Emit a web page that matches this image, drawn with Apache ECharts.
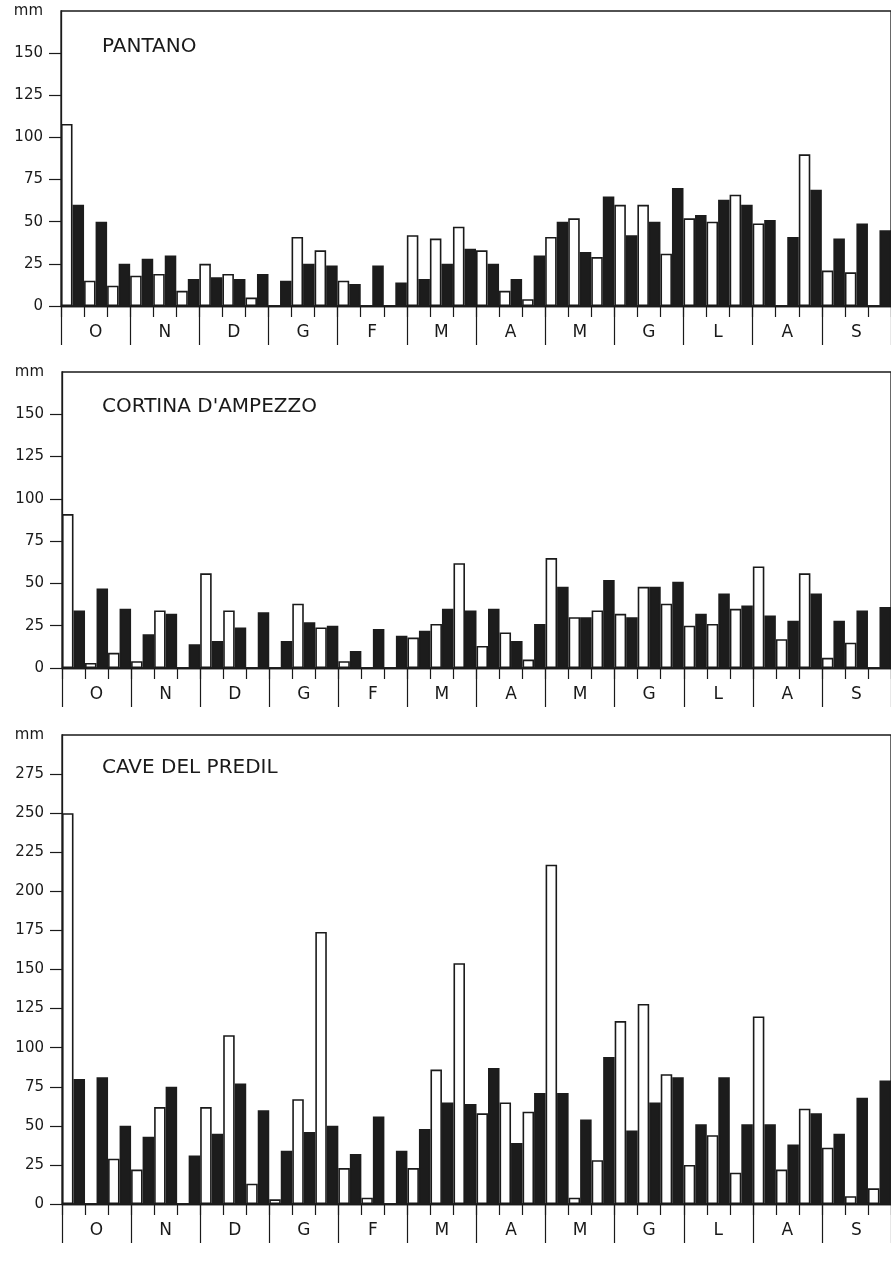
<!DOCTYPE html>
<html>
<head>
<meta charset="utf-8">
<title>Precipitazioni per decadi</title>
<script src="https://cdn.jsdelivr.net/npm/echarts@6/dist/echarts.min.js"></script>
<style>
  html, body { margin: 0; padding: 0; background: #ffffff; }
  #chart { width: 891px; height: 1282px; }
</style>
</head>
<body>
<div id="chart"></div>
<script>
// Month initials (ottobre ... settembre); each month is split into three decades
const mesi = ['O', 'N', 'D', 'G', 'F', 'M', 'A', 'M', 'G', 'L', 'A', 'S'];
const decadi = [];
mesi.forEach((m, i) => { for (let d = 1; d <= 3; d++) decadi.push(m + (i + 1) + '-' + d); });

// Station names
const stazioni = ['PANTANO', "CORTINA D'AMPEZZO", 'CAVE DEL PREDIL'];

// Precipitation per decade (mm): open bars and filled bars
const pantanoBianco = [108, 15, 12, 18, 19, 9, 25, 19, 5, 0, 41, 33, 15, 0, 0, 42, 40, 47,
                       33, 9, 4, 41, 52, 29, 60, 60, 31, 52, 50, 66, 49, 0, 90, 21, 20, 0];
const pantanoNero   = [60, 50, 25, 28, 30, 16, 17, 16, 19, 15, 25, 24, 13, 24, 14, 16, 25, 34,
                       25, 16, 30, 50, 32, 65, 42, 50, 70, 54, 63, 60, 51, 41, 69, 40, 49, 45];

const cortinaBianco = [91, 3, 9, 4, 34, 0, 56, 34, 0, 0, 38, 24, 4, 0, 0, 18, 26, 62,
                       13, 21, 5, 65, 30, 34, 32, 48, 38, 25, 26, 35, 60, 17, 56, 6, 15, 0];
const cortinaNero   = [34, 47, 35, 20, 32, 14, 16, 24, 33, 16, 27, 25, 10, 23, 19, 22, 35, 34,
                       35, 16, 26, 48, 30, 52, 30, 48, 51, 32, 44, 37, 31, 28, 44, 28, 34, 36];

const predilBianco  = [250, 0, 29, 22, 62, 0, 62, 108, 13, 3, 67, 174, 23, 4, 0, 23, 86, 154,
                       58, 65, 59, 217, 4, 28, 117, 128, 83, 25, 44, 20, 120, 22, 61, 36, 5, 10];
const predilNero    = [80, 81, 50, 43, 75, 31, 45, 77, 60, 34, 46, 50, 32, 56, 34, 48, 65, 64,
                       87, 39, 71, 71, 54, 94, 47, 65, 81, 51, 81, 51, 51, 38, 58, 45, 68, 79];

// Y-axis scale per panel (top value carries the unit label)
const scalaMax = [175, 175, 300];
const passo = 25;

const ink = '#1a1a1a';
const fontFam = 'DejaVu Sans, Liberation Sans, sans-serif';

// Panel geometry
const pannelli = [
  { left: 61, top: 11,  height: 295, bianco: pantanoBianco, nero: pantanoNero, titleTop: 37 },
  { left: 62, top: 372, height: 296, bianco: cortinaBianco, nero: cortinaNero, titleTop: 397 },
  { left: 62, top: 735, height: 469, bianco: predilBianco,  nero: predilNero,  titleTop: 758 }
];

const grid = [], xAxis = [], yAxis = [], series = [], title = [];

pannelli.forEach((p, k) => {
  const max = scalaMax[k];
  const tickVals = [];
  for (let v = 0; v < max; v += passo) tickVals.push(v);

  grid.push({
    left: p.left, top: p.top, width: 837, height: p.height,
    show: true, borderColor: ink, borderWidth: 1.3, backgroundColor: 'transparent',
    containLabel: false
  });

  // decade axis: short ticks at every decade boundary, carries the bars
  xAxis.push({
    type: 'category', gridIndex: k, data: decadi, position: 'bottom',
    boundaryGap: true,
    axisLine: { show: true, lineStyle: { color: ink, width: 1.3 } },
    axisTick: { show: true, interval: 0, length: 11, lineStyle: { color: ink, width: 1.2 } },
    axisLabel: { show: false },
    splitLine: { show: false }
  });
  // month axis: long ticks between months, month initials centred
  xAxis.push({
    type: 'category', gridIndex: k, data: mesi, position: 'bottom',
    boundaryGap: true,
    axisLine: { show: true, lineStyle: { color: ink, width: 1.3 } },
    axisTick: { show: true, interval: 0, length: 39, lineStyle: { color: ink, width: 1.2 } },
    axisLabel: {
      show: true, interval: 0, margin: 18, color: ink,
      fontFamily: fontFam, fontSize: 17
    },
    splitLine: { show: false }
  });

  yAxis.push({
    type: 'value', gridIndex: k, min: 0, max: max, interval: passo,
    axisLine: { show: true, lineStyle: { color: ink, width: 1.3 } },
    axisTick: { show: true, length: 12, customValues: tickVals, lineStyle: { color: ink, width: 1.2 } },
    axisLabel: {
      show: true, margin: 18, color: ink, fontFamily: fontFam, fontSize: 15,
      formatter: v => (v === max ? 'mm' : String(v))
    },
    splitLine: { show: false }
  });

  series.push({
    type: 'bar', name: 'bianco-' + k, xAxisIndex: 2 * k, yAxisIndex: k,
    data: p.bianco, barWidth: '50%', barGap: '0%', barCategoryGap: '0%',
    itemStyle: { color: '#ffffff', borderColor: ink, borderWidth: 1.6 },
    silent: true, animation: false
  });
  series.push({
    type: 'bar', name: 'nero-' + k, xAxisIndex: 2 * k, yAxisIndex: k,
    data: p.nero, barWidth: '50%', barGap: '0%', barCategoryGap: '0%',
    itemStyle: { color: '#1c1c1c', borderColor: '#1c1c1c', borderWidth: 1.8 },
    silent: true, animation: false
  });

  title.push({
    text: stazioni[k], left: 102, top: p.titleTop, padding: 0,
    textStyle: { color: ink, fontFamily: fontFam, fontSize: 20, fontWeight: 'normal' }
  });
});

const chart = echarts.init(document.getElementById('chart'), null, { renderer: 'canvas' });
chart.setOption({
  backgroundColor: '#ffffff',
  animation: false,
  title: title,
  grid: grid,
  xAxis: xAxis,
  yAxis: yAxis,
  series: series
});
</script>
</body>
</html>
